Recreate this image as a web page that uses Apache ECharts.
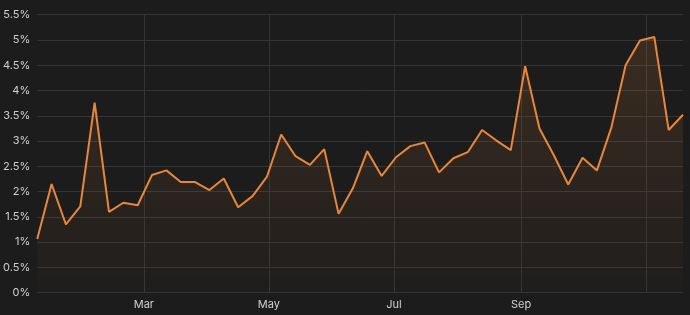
<!DOCTYPE html>
<html>
<head>
<meta charset="utf-8">
<script src="https://cdn.jsdelivr.net/npm/echarts@6/dist/echarts.min.js"></script>
<style>
html,body{margin:0;padding:0;background:#1c1c1c;}
#c{width:690px;height:315px;}
</style>
</head>
<body>
<div id="c"></div>
<script>
// Weekly dates starting Jan 8 (2023)
const startDate = '2023-01-08';
const weeks = 46;
const rates = [1.06, 2.15, 1.35, 1.71, 3.76, 1.60, 1.78, 1.73, 2.33, 2.42,
  2.19, 2.19, 2.03, 2.26, 1.69, 1.91, 2.29, 3.13, 2.70, 2.53,
  2.84, 1.56, 2.07, 2.80, 2.31, 2.68, 2.90, 2.97, 2.38, 2.66,
  2.78, 3.22, 3.01, 2.82, 4.48, 3.25, 2.72, 2.14, 2.67, 2.42,
  3.26, 4.50, 4.99, 5.06, 3.22, 3.52];
const labelDates = ['2023-03-01', '2023-05-01', '2023-07-01', '2023-09-01'];
const gridDates = ['2023-03-01', '2023-05-01', '2023-07-01', '2023-09-01', '2023-11-01'];
const monthNames = ['Jan','Feb','Mar','Apr','May','Jun','Jul','Aug','Sep','Oct','Nov','Dec'];

const DAY = 86400000;
const t0 = Date.UTC(2023, 0, 8);
function ts(s){ const p = s.split('-'); return Date.UTC(+p[0], +p[1]-1, +p[2]); }
const seriesData = rates.map((v, i) => [t0 + i * 7 * DAY, v]);

const chart = echarts.init(document.getElementById('c'), null, {renderer: 'canvas'});
chart.setOption({
  backgroundColor: '#1c1c1c',
  animation: false,
  grid: {left: 37, right: 7, top: 14.7, bottom: 22.3, containLabel: false},
  xAxis: {
    type: 'value',
    min: t0,
    max: t0 + (weeks - 1) * 7 * DAY,
    axisLine: {show: false},
    axisTick: {show: false, customValues: gridDates.map(ts)},
    axisLabel: {
      customValues: labelDates.map(ts),
      color: '#d0d0d0',
      fontSize: 11,
      fontFamily: 'Inter, "Noto Sans", sans-serif',
      margin: 6,
      formatter: function (v) { return monthNames[new Date(v).getUTCMonth()]; }
    },
    splitLine: {show: true, lineStyle: {color: '#343434', width: 1}}
  },
  yAxis: {
    type: 'value',
    min: 0,
    max: 5.5,
    interval: 0.5,
    axisLine: {show: false},
    axisTick: {show: false},
    axisLabel: {
      color: '#d0d0d0',
      fontSize: 11,
      fontFamily: 'Inter, "Noto Sans", sans-serif',
      margin: 7,
      formatter: function (v) { return v + '%'; }
    },
    splitLine: {lineStyle: {color: '#343434', width: 1}}
  },
  series: [{
    type: 'line',
    data: seriesData,
    symbol: 'none',
    lineStyle: {color: '#e8873a', width: 2},
    areaStyle: {
      color: new echarts.graphic.LinearGradient(0, 0, 0, 1, [
        {offset: 0, color: 'rgba(232,135,58,0.22)'},
        {offset: 1, color: 'rgba(232,135,58,0.02)'}
      ])
    }
  }]
});
</script>
</body>
</html>
